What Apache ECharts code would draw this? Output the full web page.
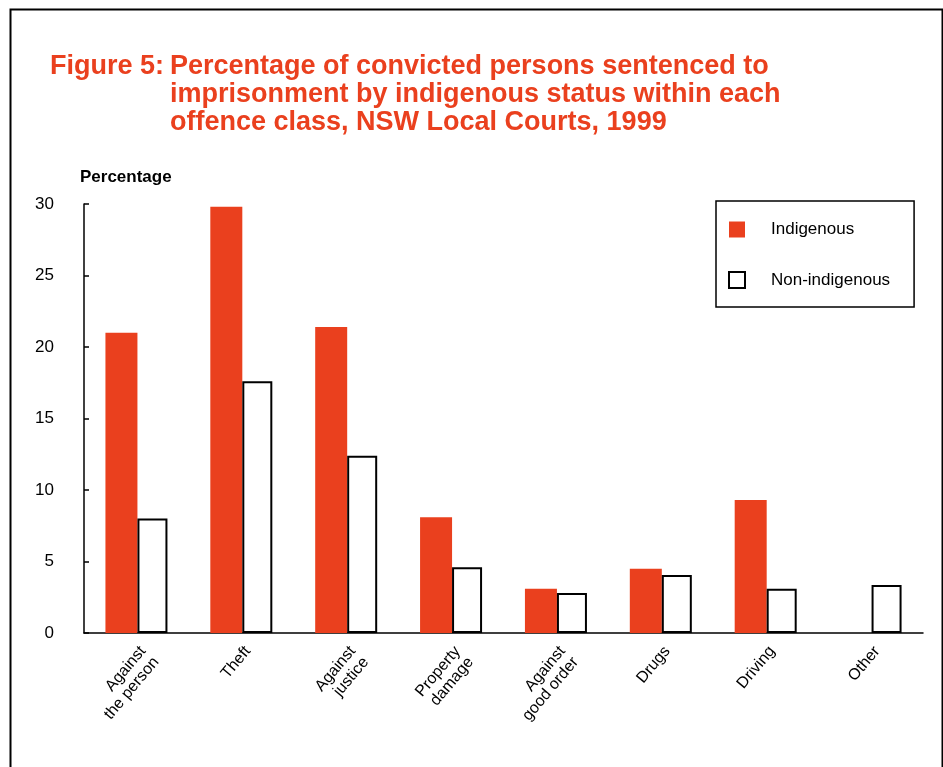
<!DOCTYPE html>
<html>
<head>
<meta charset="utf-8">
<script src="https://cdn.jsdelivr.net/npm/echarts@6/dist/echarts.min.js"></script>
<style>
html,body{margin:0;padding:0;background:#fff;}
#chart{width:943px;height:767px;}
</style>
</head>
<body>
<div id="chart"></div>
<script>
const categories = ['Against\nthe person', 'Theft', 'Against\njustice', 'Property\ndamage', 'Against\ngood order', 'Drugs', 'Driving', 'Other'];
const indigenous = [21.0, 29.8, 21.4, 8.1, 3.1, 4.5, 9.3, 0];
const nonIndigenous = [8.0, 17.6, 12.4, 4.6, 2.8, 4.05, 3.1, 3.35];
const yTicks = [0, 5, 10, 15, 20, 25, 30];

const chart = echarts.init(document.getElementById('chart'));
const RED = '#EA401E';
const FONT = '"Liberation Sans", Arial, sans-serif';

chart.setOption({
  backgroundColor: '#fff',
  animation: false,
  textStyle: { fontFamily: FONT },
  title: [
    { text: 'Figure 5:', left: 45, top: 48,
      textStyle: { color: RED, fontSize: 27, fontWeight: 'bold', fontFamily: FONT, lineHeight: 28 } },
    { text: 'Percentage of convicted persons sentenced to\nimprisonment by indigenous status within each\noffence class, NSW Local Courts, 1999',
      left: 165, top: 48,
      textStyle: { color: RED, fontSize: 27, fontWeight: 'bold', fontFamily: FONT, lineHeight: 28 } }
  ],
  graphic: [
    { type: 'rect', left: 8, top: 7, shape: { width: 932, height: 780 },
      style: { fill: 'none', stroke: '#000', lineWidth: 2 }, silent: true },
    { type: 'text', left: 80, top: 169,
      style: { text: 'Percentage', fill: '#000', font: 'bold 17px ' + FONT } }
  ],
  legend: {
    orient: 'vertical',
    left: 716, top: 201,
    padding: [20, 24, 18, 12],
    itemGap: 33,
    itemWidth: 16, itemHeight: 16,
    borderColor: '#000', borderWidth: 1.5,
    textStyle: { fontSize: 17, color: '#000', fontFamily: FONT, padding: [0, 0, 0, 21] },
    data: [
      { name: 'Indigenous', icon: 'rect' },
      { name: 'Non-indigenous', icon: 'rect' }
    ]
  },
  grid: { left: 84, right: 20, top: 204, bottom: 134, containLabel: false },
  xAxis: {
    type: 'category',
    data: categories,
    axisLine: { lineStyle: { color: '#000', width: 1.5 } },
    axisTick: { show: false },
    axisLabel: { rotate: 50, fontSize: 16, color: '#000', fontFamily: FONT, interval: 0, margin: 10,
      lineHeight: 17, verticalAlign: 'top' }
  },
  yAxis: {
    type: 'value',
    min: 0, max: 30, interval: 5,
    axisLine: { show: true, lineStyle: { color: '#000', width: 1.5 } },
    axisTick: { show: true, inside: true, length: 5, lineStyle: { color: '#000', width: 1.5 } },
    splitLine: { show: false },
    axisLabel: { fontSize: 17, color: '#000', fontFamily: FONT, margin: 30,
      formatter: v => yTicks.includes(v) ? String(v) : '' }
  },
  series: [
    { name: 'Indigenous', type: 'bar', data: indigenous, barWidth: 32, barGap: 0,
      itemStyle: { color: RED } },
    { name: 'Non-indigenous', type: 'bar', data: nonIndigenous, barWidth: 30,
      itemStyle: { color: '#fff', borderColor: '#000', borderWidth: 2 } }
  ]
});
</script>
</body>
</html>
